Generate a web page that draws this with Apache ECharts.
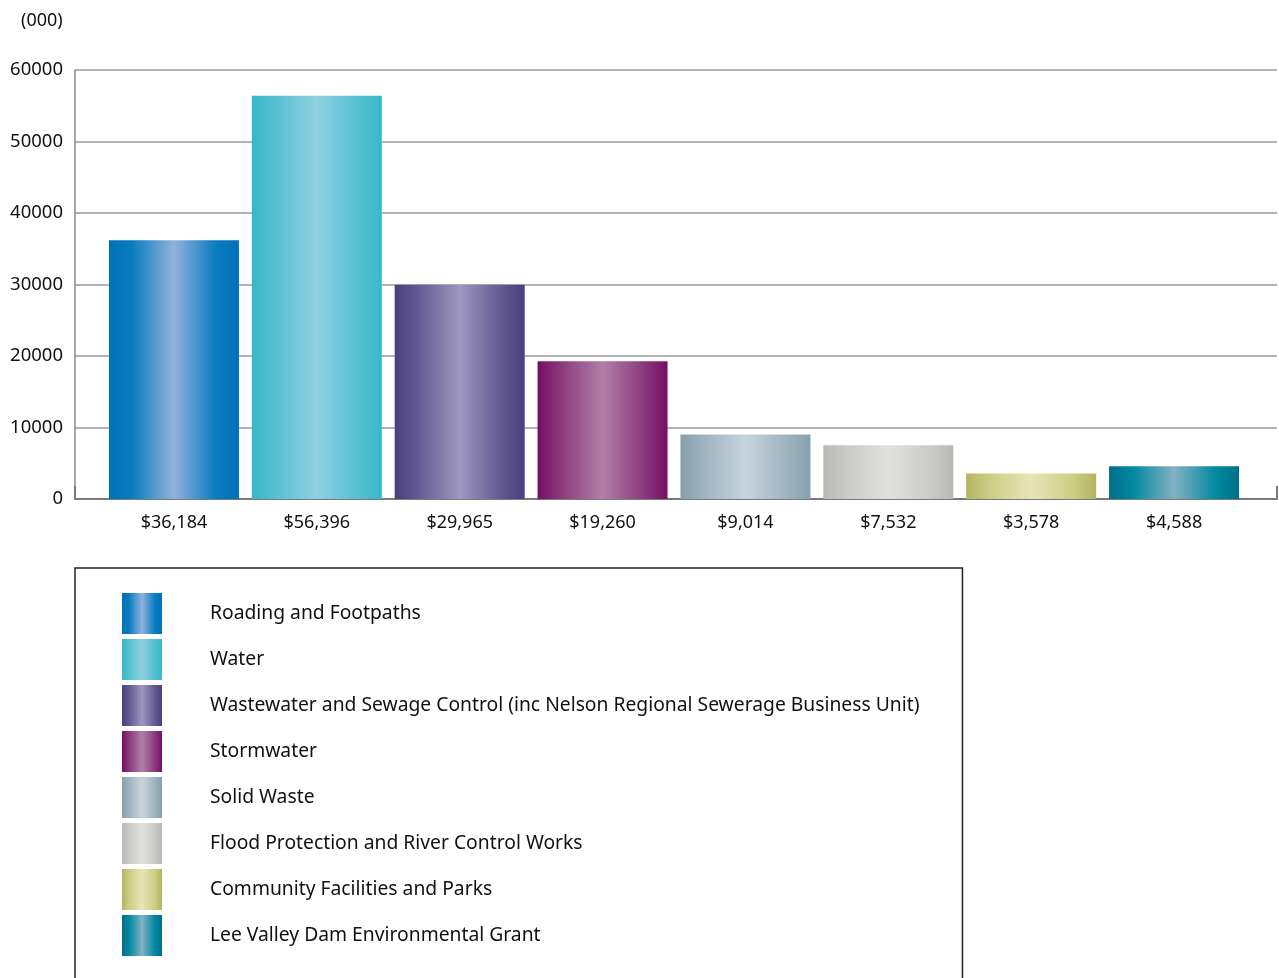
<!DOCTYPE html>
<html>
<head>
<meta charset="utf-8">
<script src="https://cdn.jsdelivr.net/npm/echarts@6/dist/echarts.min.js"></script>
<style>
  html, body { margin: 0; padding: 0; background: #fff; }
  #chart { width: 1279px; height: 978px; }
</style>
</head>
<body>
<div id="chart"></div>
<script>
var names = ['Roading and Footpaths', 'Water',
  'Wastewater and Sewage Control (inc Nelson Regional Sewerage Business Unit)',
  'Stormwater', 'Solid Waste', 'Flood Protection and River Control Works',
  'Community Facilities and Parks', 'Lee Valley Dam Environmental Grant'];
var labels = ['$36,184', '$56,396', '$29,965', '$19,260', '$9,014', '$7,532', '$3,578', '$4,588'];
var values = [36184, 56396, 29965, 19260, 9014, 7532, 3578, 4588];
// edge, center colours for each bar's metallic gradient
var edgeColors = ['#0070b8', '#38b7c9', '#4a3f7e', '#780c66', '#86a0ac', '#b8b9b4', '#b2b460', '#006f89'];
var midColors = ['#0a7cc0', '#55c0d1', '#625a92', '#8a3a7c', '#9fb3be', '#cacbc8', '#cdcd85', '#0089a0'];
var lightColors = ['#92b2dc', '#8fd1e1', '#9d98bf', '#b07fa8', '#c7d4dc', '#e1e1e0', '#e8e5b6', '#84b1c4'];

function grad(i) {
  return new echarts.graphic.LinearGradient(0, 0, 1, 0, [
    {offset: 0, color: edgeColors[i]},
    {offset: 0.18, color: midColors[i]},
    {offset: 0.5, color: lightColors[i]},
    {offset: 0.82, color: midColors[i]},
    {offset: 1, color: edgeColors[i]}
  ]);
}

var series = names.map(function (n, i) {
  var d = values.map(function (v, j) { return j === i ? v : '-'; });
  return {
    name: n,
    type: 'bar',
    xAxisIndex: 1,
    yAxisIndex: 1,
    barWidth: 130,
    barGap: '-100%',
    itemStyle: {color: grad(i)},
    data: d
  };
});

var font = 'Noto Sans';
var option = {
  backgroundColor: '#fff',
  animation: false,
  title: {
    text: '(000)', left: 16, top: 7,
    textStyle: {fontFamily: font, fontSize: 18, fontWeight: 'normal', color: '#111'}
  },
  grid: [
    {left: 75, right: 2, top: 70, height: 429},
    {left: 102.5, width: 1143, top: 70, height: 429}
  ],
  xAxis: [
    {
      gridIndex: 0, type: 'value', min: 0, max: 1, interval: 1,
      axisLine: {show: true, lineStyle: {color: '#7a7a7a', width: 2}},
      axisTick: {show: true, inside: true, length: 13, lineStyle: {color: '#7a7a7a', width: 2}},
      axisLabel: {show: false},
      splitLine: {show: false}
    },
    {
      gridIndex: 1, type: 'category', data: labels,
      axisLine: {show: false}, axisTick: {show: false},
      axisLabel: {margin: 15, fontFamily: font, fontSize: 18, color: '#111'}
    }
  ],
  yAxis: [
    {
      gridIndex: 0, type: 'value', min: 0, max: 60000, interval: 10000,
      axisLine: {show: true, lineStyle: {color: '#8a8a8a', width: 1.5}},
      axisTick: {show: false},
      axisLabel: {margin: 12, fontFamily: font, fontSize: 18.5, color: '#111',
        formatter: function (v) { return String(v); }},
      splitLine: {lineStyle: {color: '#9a9a9a', width: 1.5}}
    },
    {
      gridIndex: 1, type: 'value', min: 0, max: 60000, show: false
    }
  ],
  legend: {
    orient: 'vertical',
    left: 75, top: 568,
    height: 370,
    icon: 'rect',
    itemWidth: 40, itemHeight: 41, itemGap: 5,
    padding: [25, 43, 40, 47],
    borderColor: '#222', borderWidth: 1.5,
    selectedMode: false,
    textStyle: {fontFamily: font, fontSize: 19.3, color: '#111', padding: [3, 0, 0, 43]},
    data: names
  },
  series: series
};

echarts.init(document.getElementById('chart')).setOption(option);
</script>
</body>
</html>
